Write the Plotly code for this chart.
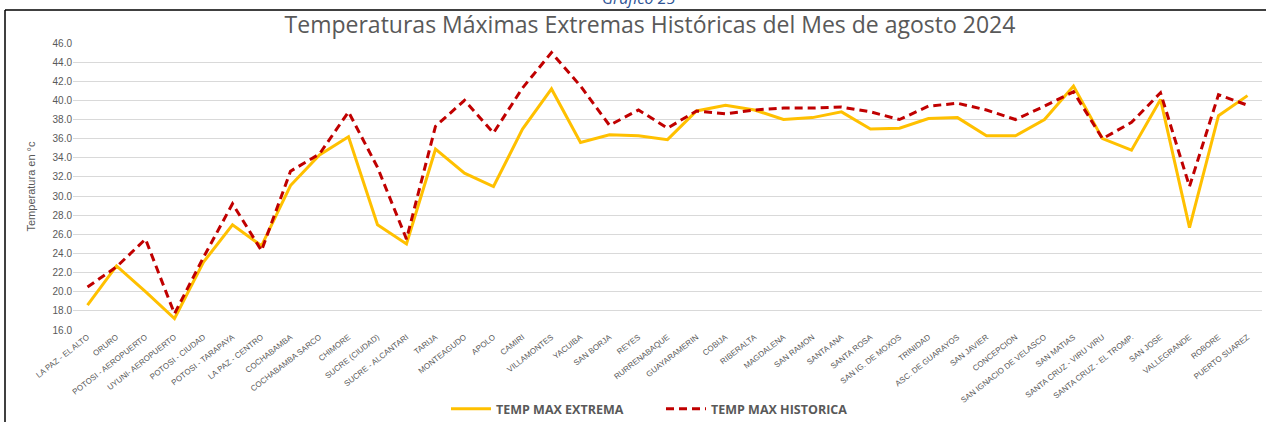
import plotly.graph_objects as go

estaciones = [
    "LA PAZ - EL ALTO", "ORURO", "POTOSI - AEROPUERTO", "UYUNI- AEROPUERTO",
    "POTOSI - CIUDAD", "POTOSI - TARAPAYA", "LA PAZ - CENTRO", "COCHABAMBA",
    "COCHABAMBA SARCO", "CHIMORE", "SUCRE (CIUDAD)", "SUCRE - ALCANTARI",
    "TARIJA", "MONTEAGUDO", "APOLO", "CAMIRI", "VILLAMONTES", "YACUIBA",
    "SAN BORJA", "REYES", "RURRENABAQUE", "GUAYARAMERIN", "COBIJA",
    "RIBERALTA", "MAGDALENA", "SAN RAMON", "SANTA ANA", "SANTA ROSA",
    "SAN IG. DE MOXOS", "TRINIDAD", "ASC. DE GUARAYOS", "SAN JAVIER",
    "CONCEPCION", "SAN IGNACIO DE VELASCO", "SAN MATIAS",
    "SANTA CRUZ - VIRU VIRU", "SANTA CRUZ - EL TROMP.", "SAN JOSE",
    "VALLEGRANDE", "ROBORE", "PUERTO SUAREZ",
]

temp_max_extrema = [
    18.6, 22.7, 20.0, 17.2, 23.1, 27.0, 24.8, 31.1, 34.3, 36.2,
    27.0, 25.0, 34.9, 32.4, 31.0, 37.0, 41.2, 35.6, 36.4, 36.3,
    35.9, 38.9, 39.5, 39.0, 38.0, 38.2, 38.8, 37.0, 37.1, 38.1,
    38.2, 36.3, 36.3, 38.0, 41.5, 36.0, 34.8, 40.1, 26.7, 38.4,
    40.5,
]

temp_max_historica = [
    20.5, 22.6, 25.5, 17.7, 23.6, 29.2, 24.3, 32.6, 34.4, 38.8,
    33.0, 25.5, 37.3, 40.0, 36.6, 41.3, 45.0, 41.5, 37.4, 39.0,
    37.1, 38.9, 38.6, 39.0, 39.2, 39.2, 39.3, 38.8, 38.0, 39.4,
    39.7, 39.0, 38.0, 39.4, 40.9, 36.0, 37.7, 40.8, 31.0, 40.6,
    39.5,
]

y_ticks = [16.0, 18.0, 20.0, 22.0, 24.0, 26.0, 28.0, 30.0, 32.0, 34.0,
           36.0, 38.0, 40.0, 42.0, 44.0, 46.0]

W, H = 1266, 422
ML, MR, MT, MB = 73, 4, 43, 92
PW, PH = W - ML - MR, H - MT - MB


def px_x(px):
    return (px - ML) / PW


def px_y(py):
    return (H - MB - py) / PH


fig = go.Figure()
fig.add_trace(go.Scatter(
    x=estaciones, y=temp_max_extrema, mode="lines",
    name="TEMP MAX EXTREMA",
    line=dict(color="#FFC000", width=3),
))
fig.add_trace(go.Scatter(
    x=estaciones, y=temp_max_historica, mode="lines",
    name="TEMP MAX HISTORICA",
    line=dict(color="#C00000", width=3, dash="8px,5px"),
))

gray = "#595959"
fig.update_layout(
    width=W, height=H,
    margin=dict(l=ML, r=MR, t=MT, b=MB, autoexpand=False),
    plot_bgcolor="white", paper_bgcolor="white",
    title=dict(
        text="Temperaturas Máximas Extremas Históricas del Mes de agosto 2024",
        x=650 / W, xref="container", xanchor="center",
        y=1 - 25 / H, yref="container", yanchor="middle",
        font=dict(family="Open Sans, sans-serif", size=23, color=gray),
    ),
    showlegend=True,
    legend=dict(
        orientation="h", x=px_x(446), xanchor="left",
        y=px_y(409), yanchor="middle",
        font=dict(family="Open Sans, Liberation Sans, sans-serif", size=12.5,
                  color=gray, weight="bold"),
        itemwidth=40, entrywidth=160, entrywidthmode="pixels",
    ),
    xaxis=dict(
        type="category", range=[-0.5, len(estaciones) - 0.5],
        tickangle=-38, showgrid=False, showline=False, ticks="",
        automargin=False,
        tickfont=dict(family="Liberation Sans Narrow, Liberation Sans, sans-serif",
                      size=8, color=gray),
    ),
    yaxis=dict(
        range=[16, 46], tickvals=y_ticks, tickformat=".1f",
        showgrid=True, gridcolor="#D9D9D9", gridwidth=1,
        zeroline=False, showline=False, ticks="", automargin=False,
        tickfont=dict(family="Liberation Sans, sans-serif", size=10, color=gray),
        title=dict(text="Temperatura en °c", standoff=14,
                   font=dict(family="Liberation Sans Narrow, Liberation Sans, sans-serif",
                             size=11, color=gray)),
    ),
    shapes=[
        dict(type="line", xref="paper", yref="paper",
             x0=px_x(5), x1=px_x(W + 5), y0=px_y(10), y1=px_y(10),
             line=dict(color="#000000", width=1.5)),
        dict(type="line", xref="paper", yref="paper",
             x0=px_x(5), x1=px_x(5), y0=px_y(10), y1=px_y(H + 5),
             line=dict(color="#000000", width=1.5)),
    ],
    annotations=[
        dict(text="<i>Gráfico 25</i>", xref="paper", yref="paper",
             x=px_x(638), y=px_y(11), xanchor="center", yanchor="bottom",
             showarrow=False,
             font=dict(family="Open Sans, sans-serif", size=16, color="#2F5496")),
    ],
)

fig.write_html(
    "out.html",
    config={"displayModeBar": False},
    post_script="document.body.style.margin='0';document.body.style.overflow='hidden';",
)
